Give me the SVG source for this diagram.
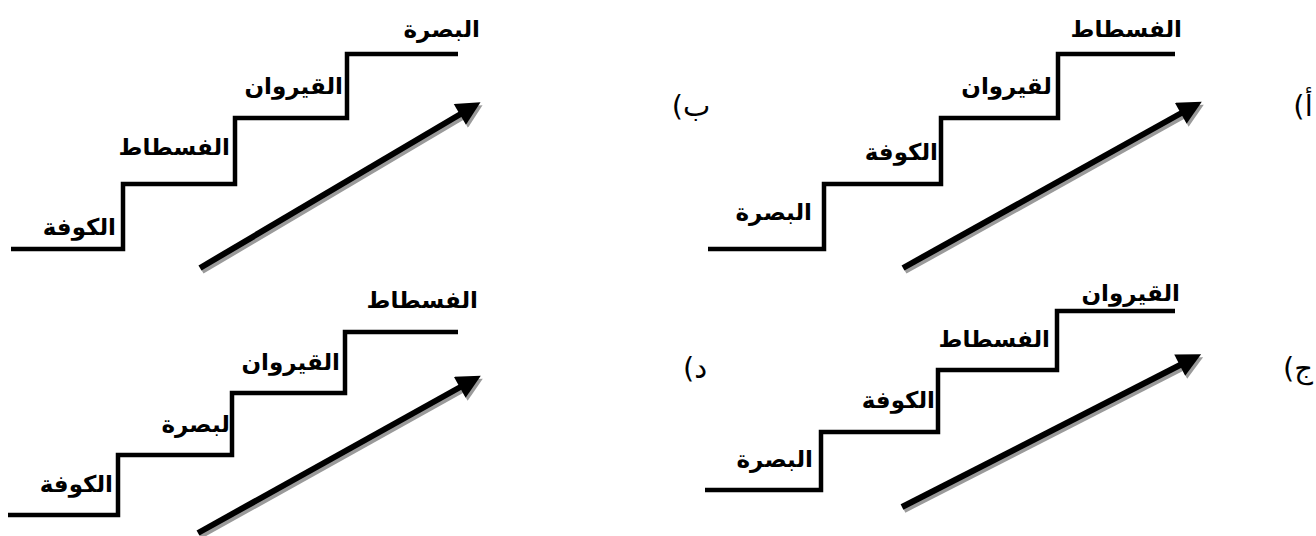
<svg xmlns="http://www.w3.org/2000/svg" width="1316" height="536" viewBox="0 0 1316 536">
<style>
.stair{fill:none;stroke:#000;stroke-width:4.5;stroke-linejoin:miter;stroke-linecap:butt}
.lbl{font-family:"DejaVu Sans",sans-serif;font-size:23px;font-weight:bold;fill:#000;text-anchor:end}
.tag{font-family:"DejaVu Sans",sans-serif;font-size:29px;fill:#000;text-anchor:middle}
.shaft{stroke:#000;stroke-width:6;fill:none}
.shadow{stroke:#9a9a9a;stroke-width:6;fill:none}
</style>
<defs>
<marker id="head" viewBox="0 0 10 10" refX="2" refY="5" markerWidth="4.2" markerHeight="4" orient="auto" markerUnits="strokeWidth">
<path d="M0,0 L10,5 L0,10 Z" fill="#000"/>
</marker>
<marker id="headS" viewBox="0 0 10 10" refX="2" refY="5" markerWidth="4.2" markerHeight="4" orient="auto" markerUnits="strokeWidth">
<path d="M0,0 L10,5 L0,10 Z" fill="#9a9a9a"/>
</marker>
</defs>

<g id="panel-b">
<path class="stair" d="M11,249 H123 V184 H235 V118 H347 V54 H458"/>
<text class="lbl" x="116" y="235">الكوفة</text>
<text class="lbl" x="230" y="155">الفسطاط</text>
<text class="lbl" x="343" y="94">القيروان</text>
<text class="lbl" x="480" y="37">البصرة</text>
<text class="tag" x="691" y="116">(ب</text>
</g>

<g id="panel-a">
<path class="stair" d="M708,249 H824 V184 H941 V118 H1058 V54 H1175"/>
<text class="lbl" x="812" y="220">البصرة</text>
<text class="lbl" x="938" y="160">الكوفة</text>
<text class="lbl" x="1052" y="94">لقيروان</text>
<text class="lbl" x="1182" y="37">الفسطاط</text>
<text class="tag" x="1303" y="116">(أ</text>
</g>

<g id="panel-d">
<path class="stair" d="M8,515 H118 V455 H232 V393 H345 V332 H458"/>
<text class="lbl" x="113" y="492">الكوفة</text>
<text class="lbl" x="230" y="432">لبصرة</text>
<text class="lbl" x="340" y="370">القيروان</text>
<text class="lbl" x="478" y="308">الفسطاط</text>
<text class="tag" x="695" y="378">(د</text>
</g>

<g id="panel-c">
<path class="stair" d="M705,490 H821 V432 H938 V370 H1057 V311 H1175"/>
<text class="lbl" x="813" y="467">البصرة</text>
<text class="lbl" x="935" y="408">الكوفة</text>
<text class="lbl" x="1050" y="347">الفسطاط</text>
<text class="lbl" x="1180" y="301">القيروان</text>
<text class="tag" x="1298" y="378">(ج</text>
</g>

<g id="connectors">
<line class="shadow" x1="202" y1="271" x2="466" y2="115" marker-end="url(#headS)"/>
<line class="shaft" x1="200" y1="268" x2="464" y2="112" marker-end="url(#head)"/>
<line class="shadow" x1="905" y1="271" x2="1187" y2="114" marker-end="url(#headS)"/>
<line class="shaft" x1="903" y1="268" x2="1185" y2="111" marker-end="url(#head)"/>
<line class="shadow" x1="200" y1="536" x2="466" y2="388" marker-end="url(#headS)"/>
<line class="shaft" x1="198" y1="533" x2="464" y2="385" marker-end="url(#head)"/>
<line class="shadow" x1="904" y1="510" x2="1186" y2="366" marker-end="url(#headS)"/>
<line class="shaft" x1="902" y1="507" x2="1184" y2="363" marker-end="url(#head)"/>
</g>
</svg>
